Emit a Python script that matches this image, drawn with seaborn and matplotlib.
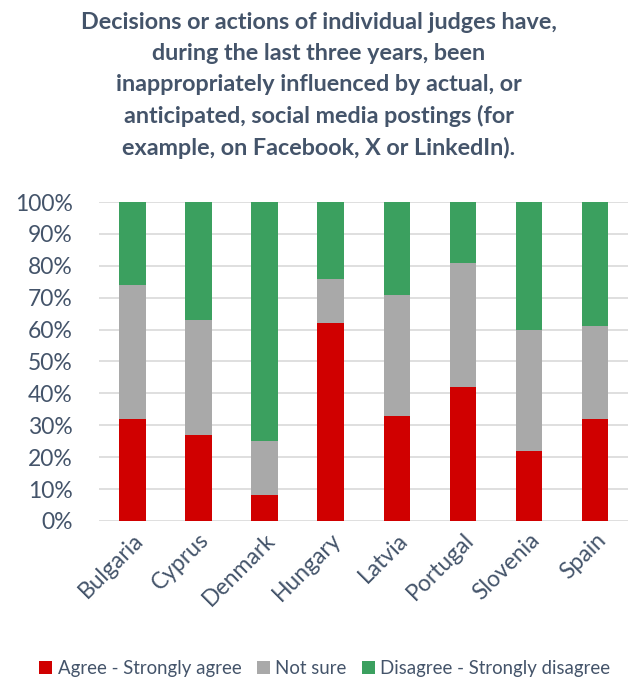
import matplotlib
matplotlib.use("Agg")
import matplotlib.pyplot as plt
from matplotlib.patches import Patch
from matplotlib.ticker import PercentFormatter
import numpy as np
import pandas as pd
import seaborn as sns

countries = ["Bulgaria", "Cyprus", "Denmark", "Hungary", "Latvia", "Portugal", "Slovenia", "Spain"]
agree = [32, 27, 8, 62, 33, 42, 22, 32]
not_sure = [42, 36, 17, 14, 38, 39, 38, 29]
disagree = [26, 37, 75, 24, 29, 19, 40, 39]

series_names = ["Agree - Strongly agree", "Not sure", "Disagree - Strongly disagree"]
series_values = [agree, not_sure, disagree]
series_colors = ["#D00000", "#A9A9A9", "#3BA05F"]

title = ("Decisions or actions of individual judges have,\n"
         "during the last three years, been\n"
         "inappropriately influenced by actual, or\n"
         "anticipated, social media postings (for\n"
         "example, on Facebook, X or LinkedIn).")

text_color = "#44546A"
grid_color = "#D9D9D9"

sns.set_theme(style="white")
plt.rcParams["font.family"] = ["Lato", "DejaVu Sans"]

fig = plt.figure(figsize=(6.37, 6.79), dpi=100)
ax = fig.add_axes([0.156, 0.2327, 0.83, 0.4698])

bottom = np.zeros(len(countries))
for name, vals, color in zip(series_names, series_values, series_colors):
    df = pd.DataFrame({"country": countries, "value": vals})
    sns.barplot(data=df, x="country", y="value", order=countries, color=color,
                saturation=1, width=0.4, bottom=bottom, ax=ax, zorder=3, linewidth=0)
    bottom = bottom + np.array(vals)

ax.set_ylim(0, 100)
ax.set_xlim(-0.5, len(countries) - 0.5)
ax.set_yticks(np.arange(0, 101, 10))
ax.yaxis.set_major_formatter(PercentFormatter(decimals=0))
ax.grid(axis="y", color=grid_color, linewidth=1.2, zorder=0)
ax.grid(axis="x", visible=False)
for s in ax.spines.values():
    s.set_visible(False)
ax.set_xlabel("")
ax.set_ylabel("")
ax.tick_params(axis="both", length=0, colors=text_color, labelsize=16.5)
ax.tick_params(axis="y", pad=19)
ax.tick_params(axis="x", pad=6)
for lbl in ax.get_xticklabels():
    lbl.set_rotation(45)
    lbl.set_ha("right")
    lbl.set_rotation_mode("anchor")

fig.text(0.5, 0.982, title, ha="center", va="top", fontsize=16.8, fontweight="bold",
         color=text_color, linespacing=1.57)

handles = [Patch(facecolor=c, edgecolor="none") for c in series_colors]
fig.legend(handles, series_names, loc="center", bbox_to_anchor=(0.51, 0.016),
           ncol=3, frameon=False, fontsize=13.4, handlelength=0.7, handleheight=0.7,
           handletextpad=0.3, columnspacing=0.8, labelcolor=text_color)

fig.savefig("out.png", dpi=100)
